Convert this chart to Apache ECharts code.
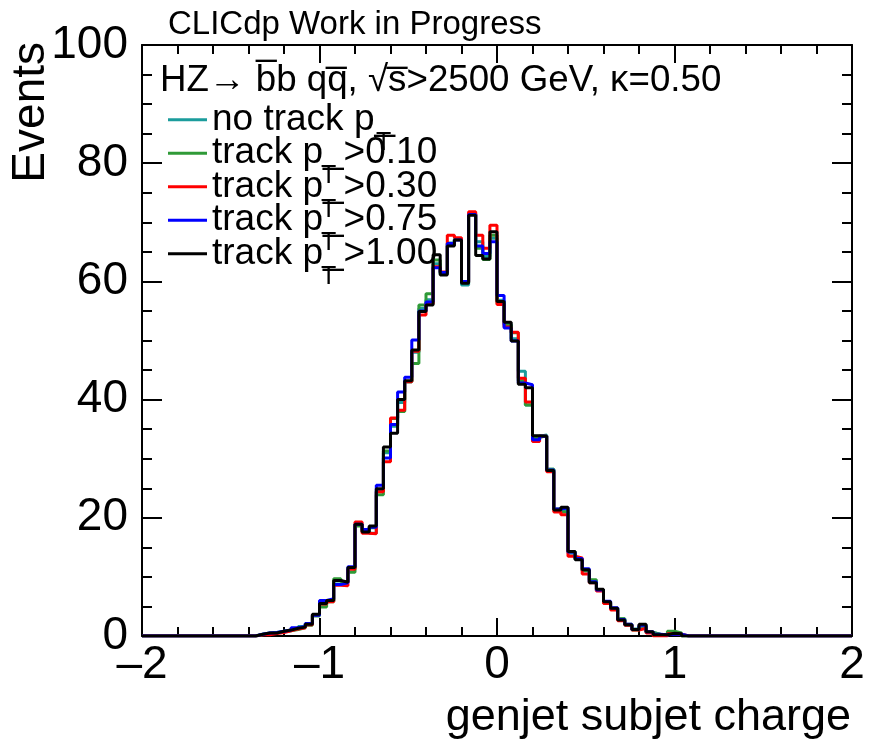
<!DOCTYPE html>
<html>
<head>
<meta charset="utf-8">
<title>genjet subjet charge</title>
<script src="https://cdn.jsdelivr.net/npm/echarts@6/dist/echarts.min.js"></script>
<style>
  html, body { margin: 0; padding: 0; background: #fff; }
  #chart { width: 869px; height: 747px; }
</style>
</head>
<body>
<div id="chart"></div>
<script>
// 100 bins from -2 to 2, values are listed from binStart on (rest is empty)
const xMin = -2
const xMax = 2
const binWidth = 0.04
const binStart = -1.4

const xTicks = [-2, -1, 0, 1, 2]
const yTicks = [0, 20, 40, 60, 80, 100]

const seriesNames = ['no track pT', 'track pT>0.10', 'track pT>0.30', 'track pT>0.75', 'track pT>1.00']
const legendLabels = ['no track p_', 'track p_>0.10', 'track p_>0.30', 'track p_>0.75', 'track p_>1.00']
const seriesColors = ['#1b9c9c', '#2f9a37', '#ff0000', '#0000ff', '#000000']

const noTrackPt = [
  0, 0.3, 0.5, 0.6, 0.8, 1.0, 1.2, 1.6, 2.1, 3.6,
  5.3, 6.0, 9.3, 9.0, 11.4, 19.0, 17.8, 17.4, 24.5, 31.0,
  35.5, 39.5, 43.0, 48.0, 55.4, 56.9, 63.0, 61.3, 66.5, 67.2,
  59.4, 71.5, 66.7, 64.2, 67.3, 56.8, 52.8, 50.3, 44.8, 39.1,
  33.8, 34.0, 28.2, 21.4, 21.3, 14.0, 13.0, 11.0, 9.2, 7.7,
  5.8, 4.6, 2.9, 1.8, 1.2, 1.6, 0.6, 0.3, 0.2, 0.5,
  0.3, 0
]
const trackPt010 = [
  0, 0.2, 0.4, 0.5, 0.7, 0.9, 1.1, 1.4, 1.8, 3.4,
  4.9, 5.8, 9.7, 9.2, 10.8, 18.6, 17.7, 18.3, 23.9, 31.3,
  36.8, 38.0, 43.0, 46.1, 56.0, 57.9, 63.6, 61.4, 66.2, 67.1,
  59.8, 71.4, 65.6, 63.7, 67.8, 56.3, 52.6, 51.3, 43.2, 39.1,
  33.6, 33.9, 28.2, 21.5, 21.0, 14.3, 13.1, 11.1, 9.5, 7.7,
  5.6, 4.7, 2.9, 2.0, 1.0, 1.7, 0.6, 0.3, 0.2, 0.8,
  0.5, 0
]
const trackPt030 = [
  0, 0.2, 0.2, 0.4, 0.6, 0.9, 1.2, 1.4, 1.9, 3.6,
  5.4, 5.8, 8.6, 8.5, 11.3, 19.3, 17.4, 17.3, 24.4, 29.5,
  36.9, 38.2, 43.0, 48.2, 54.3, 56.2, 62.5, 61.6, 67.8, 67.4,
  59.9, 71.8, 67.8, 65.6, 69.5, 56.1, 52.3, 51.4, 43.6, 39.6,
  32.9, 33.8, 27.8, 21.0, 20.5, 13.5, 13.2, 10.5, 9.0, 7.6,
  5.5, 4.4, 2.6, 1.8, 1.0, 1.3, 0.5, 0, 0, 0.4,
  0.3, 0
]
const trackPt075 = [
  0, 0.3, 0.5, 0.6, 0.8, 1.0, 1.4, 1.6, 2.1, 3.5,
  6.0, 6.3, 8.7, 9.0, 11.7, 18.9, 18.0, 18.4, 25.5, 30.1,
  35.8, 41.3, 43.8, 50.1, 55.0, 56.5, 62.3, 61.5, 66.4, 67.0,
  60.0, 71.3, 66.0, 64.7, 66.7, 57.6, 52.1, 49.9, 42.8, 42.5,
  33.2, 33.8, 28.1, 21.5, 21.7, 14.2, 13.1, 11.4, 9.2, 7.8,
  5.9, 4.8, 2.8, 2.0, 1.1, 1.8, 0.7, 0.3, 0.2, 0.3,
  0.3, 0
]
const trackPt100 = [
  0, 0.3, 0.5, 0.5, 0.8, 1.0, 1.3, 1.5, 2.0, 3.7,
  5.5, 6.0, 9.4, 9.1, 11.6, 18.9, 17.6, 18.6, 24.9, 32.0,
  34.3, 40.0, 43.2, 48.4, 54.9, 56.0, 64.5, 61.1, 66.0, 67.0,
  59.7, 71.2, 64.4, 63.8, 68.4, 56.6, 53.1, 49.9, 42.6, 42.0,
  33.9, 33.8, 28.0, 21.3, 21.8, 14.3, 12.9, 11.2, 9.0, 7.9,
  5.8, 4.7, 2.7, 1.9, 1.1, 2.0, 0.7, 0.2, 0.2, 0.45,
  0.4, 0
]
const allValues = [noTrackPt, trackPt010, trackPt030, trackPt075, trackPt100]

// bin contents -> [lowEdge, value] points for a step line ('end' = flat first)
function histData(values) {
  const nBins = Math.round((xMax - xMin) / binWidth)
  const first = Math.round((binStart - xMin) / binWidth)
  const pts = []
  for (let i = 0; i < nBins; i++) {
    const j = i - first
    const v = j >= 0 && j < values.length ? values[j] : 0
    pts.push([+(xMin + i * binWidth).toFixed(2), v])
  }
  pts.push([xMax, pts[pts.length - 1][1]])
  return pts
}

const font = '"Liberation Sans", Arial, Helvetica, sans-serif'

function axisCommon(extra) {
  return Object.assign({
    type: 'value',
    axisLine: { show: true, onZero: false, lineStyle: { color: '#000', width: 2 } },
    axisTick: { show: true, inside: true, length: 18, lineStyle: { color: '#000', width: 2 } },
    minorTick: { show: true, length: 9, lineStyle: { color: '#000', width: 2 } },
    splitLine: { show: false },
    minorSplitLine: { show: false }
  }, extra)
}

const labelStyle = {
  fontSize: 46,
  fontFamily: font,
  color: '#000',
  showMinLabel: true,
  showMaxLabel: true,
  hideOverlap: false
}

const chart = echarts.init(document.getElementById('chart'), null, { renderer: 'canvas' })

// the misplaced subscript T of every legend line (ROOT drew them one line too low)
const tMarks = [
  [376, 131], [321, 164], [321, 197.5], [321, 231], [321, 264.5]
]

chart.setOption({
  animation: false,
  backgroundColor: '#fff',
  grid: { left: 142, right: 17, top: 45, bottom: 111, containLabel: false, outerBoundsMode: 'none' },
  xAxis: [
    axisCommon({
      min: xMin, max: xMax, interval: 1, position: 'bottom',
      minorTick: { show: true, splitNumber: 5, length: 9, lineStyle: { color: '#000', width: 2 } },
      axisLabel: Object.assign({
        margin: 6,
        formatter: v => (v < 0 ? '\u2013' + (-v) : String(v))
      }, labelStyle)
    }),
    axisCommon({
      min: xMin, max: xMax, interval: 1, position: 'top',
      minorTick: { show: true, splitNumber: 5, length: 9, lineStyle: { color: '#000', width: 2 } },
      axisLabel: { show: false }
    })
  ],
  yAxis: [
    axisCommon({
      min: 0, max: 100, interval: 20, position: 'left',
      axisTick: { show: true, inside: true, length: 20, lineStyle: { color: '#000', width: 2 } },
      minorTick: { show: true, splitNumber: 4, length: 10, lineStyle: { color: '#000', width: 2 } },
      axisLabel: Object.assign({ margin: 14 }, labelStyle)
    }),
    axisCommon({
      min: 0, max: 100, interval: 20, position: 'right',
      axisTick: { show: true, inside: true, length: 20, lineStyle: { color: '#000', width: 2 } },
      minorTick: { show: true, splitNumber: 4, length: 10, lineStyle: { color: '#000', width: 2 } },
      axisLabel: { show: false }
    })
  ],
  legend: {
    orient: 'vertical',
    left: 163,
    top: 91,
    itemWidth: 39,
    itemHeight: 3,
    itemGap: -14,
    icon: 'rect',
    selectedMode: false,
    data: seriesNames,
    formatter: name => legendLabels[seriesNames.indexOf(name)],
    textStyle: { fontSize: 37, lineHeight: 33.5, fontFamily: font, color: '#000', padding: [0, 0, 14, 0] }
  },
  graphic: [
    {
      type: 'text', x: 168, y: 25,
      style: { text: 'CLICdp Work in Progress', font: '33px ' + font, fill: '#000', verticalAlign: 'middle' }
    },
    {
      type: 'text', x: 160, y: 81,
      style: { text: 'HZ\u2192 b\u0305b qq\u0305, \u221As\u0305>2500 GeV, \u03BA=0.50', font: '36.7px ' + font, fill: '#000', verticalAlign: 'middle' }
    },
    {
      type: 'text', x: 31, y: 42, rotation: Math.PI / 2,
      style: { text: 'Events', font: '46px ' + font, fill: '#000', align: 'right', verticalAlign: 'middle' }
    },
    {
      type: 'text', x: 851, y: 718,
      style: { text: 'genjet subjet charge', font: '45px ' + font, fill: '#000', align: 'right', verticalAlign: 'middle' }
    }
  ].concat(tMarks.map(p => ({
    type: 'text', x: p[0], y: p[1],
    style: { text: 'T', font: '25px ' + font, fill: '#000', verticalAlign: 'top' }
  }))),
  series: allValues.map((vals, k) => ({
    name: seriesNames[k],
    type: 'line',
    step: 'end',
    symbol: 'none',
    xAxisIndex: 0,
    yAxisIndex: 0,
    color: seriesColors[k],
    lineStyle: { color: seriesColors[k], width: 3 },
    data: histData(vals),
    z: 2 + k
  }))
})
</script>
</body>
</html>
